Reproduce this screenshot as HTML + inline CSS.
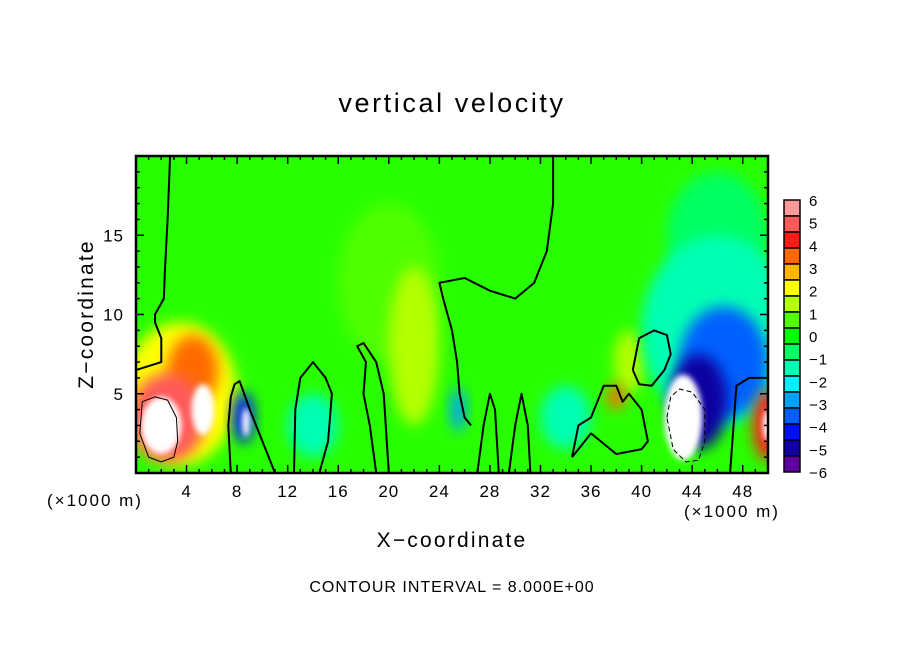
<!DOCTYPE html>
<html><head><meta charset="utf-8">
<style>
body{margin:0;background:#fff;width:904px;height:654px;overflow:hidden;font-family:"Liberation Sans","DejaVu Sans",sans-serif}
svg text{font-family:"Liberation Sans","DejaVu Sans",sans-serif;fill:#000}
</style></head><body>
<svg id="chart" width="904" height="654" viewBox="0 0 904 654" xmlns="http://www.w3.org/2000/svg">
<defs>
<clipPath id="pc"><rect x="136" y="156" width="632" height="317"/></clipPath>
<filter id="bl" x="-50%" y="-50%" width="200%" height="200%"><feGaussianBlur stdDeviation="7"/></filter>
<filter id="bl2" x="-50%" y="-50%" width="200%" height="200%"><feGaussianBlur stdDeviation="3"/></filter>
</defs>
<text x="452" y="112" font-size="27" text-anchor="middle" letter-spacing="2.6">vertical velocity</text>
<g id="plot" clip-path="url(#pc)"></g>
<g id="axes"></g>
<g id="cbar"></g>
<text x="452" y="547" font-size="21" text-anchor="middle" letter-spacing="2.2">X−coordinate</text>
<text transform="translate(93,314) rotate(-90)" font-size="21" text-anchor="middle" letter-spacing="2.2">Z−coordinate</text>
<text x="47" y="506" font-size="17" letter-spacing="2">(×1000 m)</text>
<text x="684" y="517" font-size="17" letter-spacing="2">(×1000 m)</text>
<text x="452" y="592" font-size="16" text-anchor="middle" letter-spacing="1">CONTOUR INTERVAL = 8.000E+00</text>
</svg>
<script>
const xTicks=[4,8,12,16,20,24,28,32,36,40,44,48];
const yTicks=[5,10,15];
const cbLabels=[6,5,4,3,2,1,0,-1,-2,-3,-4,-5,-6];
const cbColors=["#ff9a9a","#ff5a5a","#ff1a1a","#ff6a00","#ffb400","#ffff00","#b4ff00","#50ff00","#00ff00","#00ff60","#00ffb4","#00f0ff","#00a0ff","#0060ff","#0010ff","#1000a0","#6000a0"];
// blobs: x(km), z(km), rx, rz, value
const blobX=[3.5,22,39,20,46,46.5,14,34,2.5,4.5,8.5,25.5,44.5,50,38,2,5.3,43.3,8.7,50,46];
const blobZ=[5,8,7,12,9,7,3,3.5,3.5,6.5,3.5,4,4.5,3,4.8,3,4,3.5,3.2,3,15];
const blobRX=[4.5,2,1.2,4,6,3.5,2,2,3,2,0.8,0.6,2.3,1.2,0.7,1.6,0.9,1.5,0.3,0.4,4];
const blobRZ=[4.5,5,2,5,6,3.5,2,2,2.8,2.2,1.6,1.4,3.0,2.2,0.8,1.8,1.6,2.7,0.9,1,4];
const blobV=[1.8,1.5,1.2,0.8,-1.4,-3.8,-1.2,-1.5,5,3.5,-4.2,-3,-4.6,4.5,3.5,7,7,-7,7,7,-0.5];
const cX=[[2.7,2.5,2.3,2.2,1.5,1.5,2,2,0],[33,33,32.5,31.5,30,28,26,24,24.3,25,25.4,25.6,26,26.5],[27,27.5,28,28.4,28.7],[29.5,30,30.5,31,31.2],[7.5,7.3,7.5,7.8,8.2,9,10,11],[12.5,12.6,13,14,15,15.5,15.2,14.5],[19,18.5,18,18.2,17.5,18,19,19.6,20],[39.3,39.8,41,42,42.3,41.8,40.8,39.8,39.3],[47,47.5,48.5,50],[34.5,35,36,37,38,38.5,39,40,40.5,40,38,36,34.5]];
const cZ=[[20,16,13,11,10,9.5,8.5,7,6.5],[20,17,14,12,11,11.5,12.3,12,11,9,7,5,3.5,3],[0,3,5,4,0],[0,3,5,3,0],[0,3,4.8,5.6,5.8,4,2,0],[0,4,6,7,6,5,2,0],[0,3,5,7,8,8.2,7,5,0],[6.5,8.5,9,8.7,7.5,6.5,5.5,5.6,6.5],[0,5.5,6,6],[1,3,3.5,5.5,5.5,4.5,5,4,2,1.5,1.2,2.5,1]];
const dX=[[42,42.3,43,44,45,45,44.5,43.5,42.5,42]];
const dZ=[[3.5,4.8,5.3,5.1,4,2,0.8,0.7,1.5,3.5]];
const NS="http://www.w3.org/2000/svg";
const X0=136,X1=768,Y0=473,Y1=156;
const sx=v=>X0+v/50*(X1-X0), sz=v=>Y0-v/20*(Y0-Y1);
const cbTop=200,cbBot=472;
const cbY=v=>cbTop+(6-v)/12*(cbBot-cbTop);
function col(v){if(v>6||v<-6)return"#ffffff";let i=Math.floor((6-v)/12*cbColors.length);return cbColors[Math.max(0,Math.min(cbColors.length-1,i))];}
function mk(t,a,p){const e=document.createElementNS(NS,t);for(const k in a)e.setAttribute(k,a[k]);p.appendChild(e);return e;}
const plot=document.getElementById('plot');
mk('rect',{x:X0,y:Y1,width:X1-X0,height:Y0-Y1,fill:"#28ff00"},plot);
const order=blobV.map((v,i)=>i).sort((a,b)=>Math.abs(blobV[a])-Math.abs(blobV[b]));
for(const i of order){
 const e=mk('ellipse',{cx:sx(blobX[i]),cy:sz(blobZ[i]),rx:blobRX[i]/50*(X1-X0),ry:blobRZ[i]/20*(Y0-Y1),fill:col(blobV[i]),filter:Math.abs(blobV[i])>6?"url(#bl2)":"url(#bl)"},plot);
 
 
}
function path(xs,zs,attrs){const d=xs.map((x,i)=>(i?'L':'M')+sx(x).toFixed(1)+','+sz(zs[i]).toFixed(1)).join(' ');return mk('path',Object.assign({d:d,fill:'none',stroke:'#000','stroke-linejoin':'round'},attrs),plot);}
cX.forEach((xs,i)=>{const e=path(xs,cZ[i],{'stroke-width':2});});
dX.forEach((xs,i)=>{const e=path(xs,dZ[i],{'stroke-width':1,'stroke-dasharray':'5,3'});});
{const e=path([0.5,1.5,2.5,3.2,3.3,3,2,1,0.3,0.5],[4.5,4.8,4.6,3.5,2,1,0.7,1,2.5,4.5],{'stroke-width':1});}
const ax=document.getElementById('axes');
{const e=mk('rect',{x:X0,y:Y1,width:X1-X0,height:Y0-Y1,fill:'none',stroke:'#000','stroke-width':2.5},ax);}
for(let v=1;v<50;v++){const x=sx(v),L=v%4===0?8:4;mk('line',{x1:x,y1:Y0,x2:x,y2:Y0-L,stroke:'#000','stroke-width':1.5},ax);mk('line',{x1:x,y1:Y1,x2:x,y2:Y1+L,stroke:'#000','stroke-width':1.5},ax);}
for(let v=1;v<20;v++){const y=sz(v),L=v%5===0?8:4;mk('line',{x1:X0,y1:y,x2:X0+L,y2:y,stroke:'#000','stroke-width':1.5},ax);mk('line',{x1:X1,y1:y,x2:X1-L,y2:y,stroke:'#000','stroke-width':1.5},ax);}
xTicks.forEach(v=>{const t=mk('text',{x:sx(v),y:497,'font-size':17,'text-anchor':'middle','letter-spacing':1},ax);t.textContent=v;});
yTicks.forEach(v=>{const t=mk('text',{x:124,y:sz(v)+6,'font-size':17,'text-anchor':'end','letter-spacing':1},ax);t.textContent=v;});
const cb=document.getElementById('cbar');
const n=cbColors.length,h=(cbBot-cbTop)/n;
cbColors.forEach((c,i)=>{const r=mk('rect',{x:784,y:cbTop+i*h,width:16,height:h,fill:c,stroke:'#000','stroke-width':1.5},cb);});
cbLabels.forEach(v=>{const t=mk('text',{x:809,y:cbY(v)+6,'font-size':15,'letter-spacing':1},cb);t.textContent=v<0?'−'+(-v):v;});
</script>
</body></html>
